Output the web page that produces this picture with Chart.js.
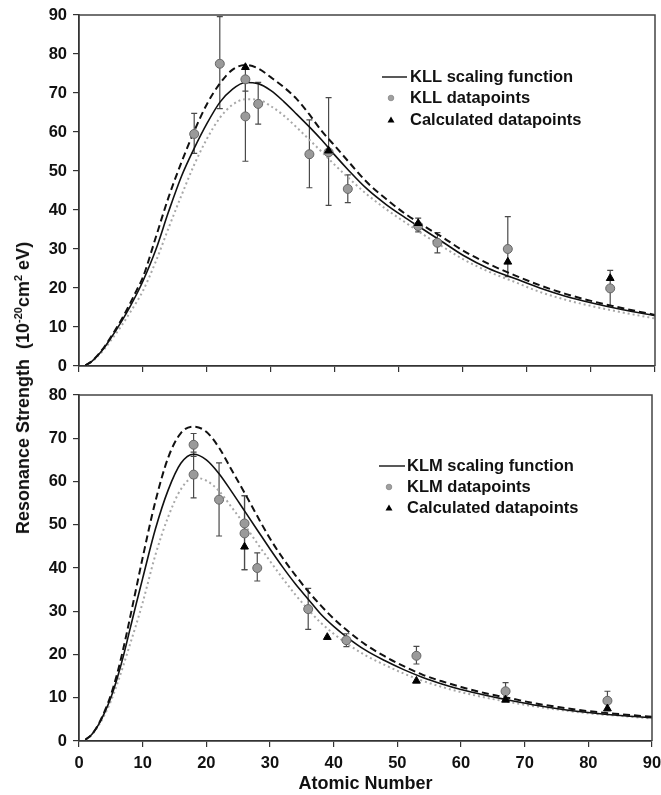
<!DOCTYPE html>
<html><head><meta charset="utf-8">
<script src="https://cdn.jsdelivr.net/npm/chart.js@4.4.0/dist/chart.umd.min.js"></script>
<style>
html,body{margin:0;padding:0;background:#fff;}
#wrap{position:relative;width:661px;height:795px;overflow:hidden;background:#fff;}
#c1{position:absolute;left:0;top:0;}
#c2{position:absolute;left:0;top:380px;}
#ytitle{position:absolute;left:24px;top:388px;transform:translate(-50%,-50%) rotate(-90deg);white-space:nowrap;font:bold 18px "Liberation Sans",Arial,sans-serif;color:#111;line-height:20px;}
#ytitle .sp{font-size:11px;position:relative;top:-7px;}
</style></head><body>
<div id="wrap">
<canvas id="c1" width="661" height="380"></canvas>
<canvas id="c2" width="661" height="415"></canvas>
<div id="ytitle">Resonance Strength&nbsp;&nbsp;(10<span class="sp">-20</span>cm<span class="sp">2</span> eV)</div>
</div>
<script>
// ---------- data ----------
const zGrid = [1,2,3,4,5,6,7,8,9,10,12,14,16,18,20,22,24,26,28,30,32,34,36,38,40,42,45,48,51,54,57,60,64,68,72,76,80,85,90];

// KLL (top panel) curves
const kllScaling = [0.2,1.2,2.8,4.8,7.2,9.7,12.4,15.3,18.4,21.8,29.8,39.6,48.6,55.8,62.2,67.6,71.0,72.7,72.4,70.6,67.8,64.6,61.3,57.8,54.0,50.4,45.4,41.4,38.0,34.8,31.6,28.4,25.0,22.5,20.0,17.9,16.2,14.4,12.9];
const kllUpper   = [0.2,1.2,2.9,5.0,7.5,10.1,13.0,16.1,19.4,22.8,33.0,43.3,52.2,60.2,67.2,72.4,76.0,77.2,76.3,74.0,71.5,68.5,64.5,60.1,56.4,52.6,47.1,42.8,39.0,35.8,32.8,29.6,26.2,23.3,20.7,18.5,16.7,14.8,13.1];
const kllLower   = [0.2,1.1,2.6,4.4,6.6,8.8,11.2,13.8,16.4,19.3,26.8,35.4,43.7,51.6,58.3,63.6,67.0,68.4,68.3,66.6,64.2,61.2,58.0,54.8,51.5,48.4,44.0,40.2,36.8,33.5,30.4,27.4,24.2,21.6,19.0,17.0,15.4,13.7,12.2];

// KLL measured datapoints
const kllZ     = [18,22,26,26,28,36,39,42,53,56,67,83];
const kllY     = [59.5,77.5,73.5,64.0,67.2,54.3,54.8,45.4,35.9,31.6,30.0,19.9];
const kllErrLo = [54.5,66.0,70.5,52.5,62.0,45.7,41.2,41.9,34.4,29.0,22.9,15.5];
const kllErrHi = [64.8,89.6,76.5,74.0,72.7,63.1,68.8,49.0,37.9,34.2,38.3,24.5];
// KLL calculated datapoints
const kllCalcZ = [26,39,53,67,83];
const kllCalcY = [76.6,55.2,36.6,26.7,22.5];

// KLM (bottom panel) curves
const klmScaling = [0.3,1.5,3.6,6.5,10.0,14.5,19.8,25.8,31.8,37.6,49.0,58.0,64.2,66.3,65.0,61.8,57.6,53.2,48.8,44.4,40.2,36.3,32.8,29.3,26.5,24.1,21.0,18.6,16.5,14.7,13.2,11.9,10.5,9.3,8.2,7.3,6.6,5.9,5.4];
const klmUpper   = [0.3,1.5,3.7,6.8,10.6,15.6,21.6,28.4,35.4,42.4,55.4,65.5,71.2,72.7,71.5,67.8,62.6,57.4,52.0,46.8,42.3,38.3,34.6,31.3,28.3,25.7,22.3,19.6,17.3,15.3,13.8,12.5,11.0,9.8,8.6,7.7,6.9,6.2,5.6];
const klmLower   = [0.3,1.4,3.4,6.0,9.2,13.2,17.6,22.3,27.0,32.0,43.0,51.8,58.2,60.9,60.2,57.8,54.0,50.0,45.7,41.6,37.6,33.8,30.4,27.3,24.8,22.6,19.8,17.6,15.6,13.9,12.5,11.3,10.0,8.9,7.9,7.1,6.4,5.8,5.2];

// KLM measured datapoints
const klmZ     = [18,18,22,26,26,28,36,42,53,67,83];
const klmY     = [68.5,61.6,55.8,50.3,48.0,40.0,30.5,23.3,19.7,11.5,9.3];
const klmErrLo = [65.8,56.2,47.4,39.6,39.6,37.0,25.8,21.8,17.8,9.5,7.0];
const klmErrHi = [71.1,66.8,64.3,56.7,56.7,43.5,35.3,24.8,21.9,13.5,11.5];
// KLM calculated datapoints
const klmCalcZ = [26,39,53,67,83];
const klmCalcY = [44.9,24.0,13.9,9.5,7.5];

const xTickStep = 10;
const topLegend = ['KLL scaling function','KLL datapoints','Calculated datapoints'];
const botLegend = ['KLM scaling function','KLM datapoints','Calculated datapoints'];

// ---------- helpers ----------
const FONT = '"Liberation Sans", Arial, sans-serif';
Chart.defaults.font.family = FONT;
Chart.defaults.color = '#111';
const pts = (xs, ys) => xs.map((x, i) => ({x: x, y: ys[i]}));

const errorBarPlugin = {
  id: 'errorBars',
  beforeDatasetsDraw(chart) {
    const {ctx} = chart; const x = chart.scales.x, y = chart.scales.y;
    chart.data.datasets.forEach(ds => {
      if (!ds.errLo) return;
      ctx.save(); ctx.strokeStyle = '#4a4a4a'; ctx.lineWidth = 1.2;
      ds.data.forEach((p, i) => {
        const px = x.getPixelForValue(p.x);
        const yl = y.getPixelForValue(ds.errLo[i]);
        const yh = y.getPixelForValue(ds.errHi[i]);
        ctx.beginPath();
        ctx.moveTo(px, yl); ctx.lineTo(px, yh);
        ctx.moveTo(px - 3, yl); ctx.lineTo(px + 3, yl);
        ctx.moveTo(px - 3, yh); ctx.lineTo(px + 3, yh);
        ctx.stroke();
      });
      ctx.restore();
    });
  }
};
const framePlugin = {
  id: 'frame',
  afterDraw(chart) {
    const {ctx, chartArea: a} = chart;
    ctx.save(); ctx.strokeStyle = '#444'; ctx.lineWidth = 1.5;
    ctx.beginPath(); ctx.moveTo(a.left, a.top); ctx.lineTo(a.right, a.top); ctx.lineTo(a.right, a.bottom); ctx.stroke();
    ctx.restore();
  }
};
function legendPlugin(labels, lx0, lx1, tx, mx, rows) {
  return {
    id: 'customLegend',
    afterDraw(chart) {
      const ctx = chart.ctx;
      ctx.save();
      ctx.strokeStyle = '#222'; ctx.lineWidth = 1.5;
      ctx.beginPath(); ctx.moveTo(lx0, rows[0]); ctx.lineTo(lx1, rows[0]); ctx.stroke();
      ctx.fillStyle = '#a0a0a0'; ctx.strokeStyle = '#888'; ctx.lineWidth = 0.8;
      ctx.beginPath(); ctx.arc(mx, rows[1], 2.8, 0, Math.PI * 2); ctx.fill(); ctx.stroke();
      ctx.fillStyle = '#000';
      ctx.beginPath(); ctx.moveTo(mx, rows[2] - 3.5); ctx.lineTo(mx + 3.5, rows[2] + 2.5); ctx.lineTo(mx - 3.5, rows[2] + 2.5); ctx.closePath(); ctx.fill();
      ctx.fillStyle = '#111'; ctx.font = 'bold 16.5px ' + FONT; ctx.textBaseline = 'middle'; ctx.textAlign = 'left';
      labels.forEach((t, i) => ctx.fillText(t, tx, rows[i]));
      ctx.restore();
    }
  };
}
function makeChart(id, cfg) {
  const {fit, upper, lower, mz, my, elo, ehi, cz, cy, ymax, xHeight, padRight, showXLabels, legend} = cfg;
  return new Chart(document.getElementById(id), {
    type: 'scatter',
    data: {
      datasets: [
        {data: pts(cz, cy), pointStyle: 'triangle', pointRadius: 4.5, backgroundColor: '#000', borderColor: '#000', borderWidth: 1},
        {data: pts(mz, my), errLo: elo, errHi: ehi, pointStyle: 'circle', pointRadius: 4.5, backgroundColor: '#9a9a9a', borderColor: '#666', borderWidth: 1},
        {data: pts(zGrid, fit), showLine: true, pointRadius: 0, borderColor: '#111', borderWidth: 1.6, cubicInterpolationMode: 'monotone'},
        {data: pts(zGrid, upper), showLine: true, pointRadius: 0, borderColor: '#111', borderWidth: 2, borderDash: [7, 4], cubicInterpolationMode: 'monotone'},
        {data: pts(zGrid, lower), showLine: true, pointRadius: 0, borderColor: '#a8a8a8', borderWidth: 2, borderDash: [2, 3], cubicInterpolationMode: 'monotone'}
      ]
    },
    options: {
      responsive: false, animation: false, events: [],
      layout: {padding: {top: 15, right: padRight, bottom: 0, left: 0}},
      plugins: {legend: {display: false}, tooltip: {enabled: false}},
      scales: {
        x: {
          type: 'linear', min: 0, max: 90,
          ticks: {display: showXLabels, stepSize: xTickStep, padding: 7, font: {size: 16.5, weight: 'bold'}, color: '#111'},
          grid: {display: true, drawOnChartArea: false, drawTicks: true, tickLength: 6, color: '#333', lineWidth: 1.2},
          border: {display: true, color: '#333', width: 1.8},
          title: {display: showXLabels, text: 'Atomic Number', font: {size: 18, weight: 'bold'}, color: '#111', padding: {top: 0, bottom: 0}},
          afterFit(s) { s.height = xHeight; s.paddingLeft = 0; s.paddingRight = 0; }
        },
        y: {
          type: 'linear', min: 0, max: ymax,
          ticks: {stepSize: 10, padding: 6, font: {size: 16.5, weight: 'bold'}, color: '#111'},
          grid: {display: true, drawOnChartArea: false, drawTicks: true, tickLength: 6, color: '#333', lineWidth: 1.2},
          border: {display: true, color: '#333', width: 1.8},
          afterFit(s) { s.width = 79; s.paddingTop = 0; s.paddingBottom = 0; }
        }
      }
    },
    plugins: [errorBarPlugin, framePlugin, legend]
  });
}

makeChart('c1', {
  fit: kllScaling, upper: kllUpper, lower: kllLower,
  mz: kllZ, my: kllY, elo: kllErrLo, ehi: kllErrHi, cz: kllCalcZ, cy: kllCalcY,
  ymax: 90, xHeight: 14, padRight: 6, showXLabels: false,
  legend: legendPlugin(topLegend, 382, 407, 410, 391, [77, 98, 120])
});
makeChart('c2', {
  fit: klmScaling, upper: klmUpper, lower: klmLower,
  mz: klmZ, my: klmY, elo: klmErrLo, ehi: klmErrHi, cz: klmCalcZ, cy: klmCalcY,
  ymax: 80, xHeight: 54, padRight: 9, showXLabels: true,
  legend: legendPlugin(botLegend, 379, 405, 407, 389, [86, 107, 128])
});
</script>
</body></html>
